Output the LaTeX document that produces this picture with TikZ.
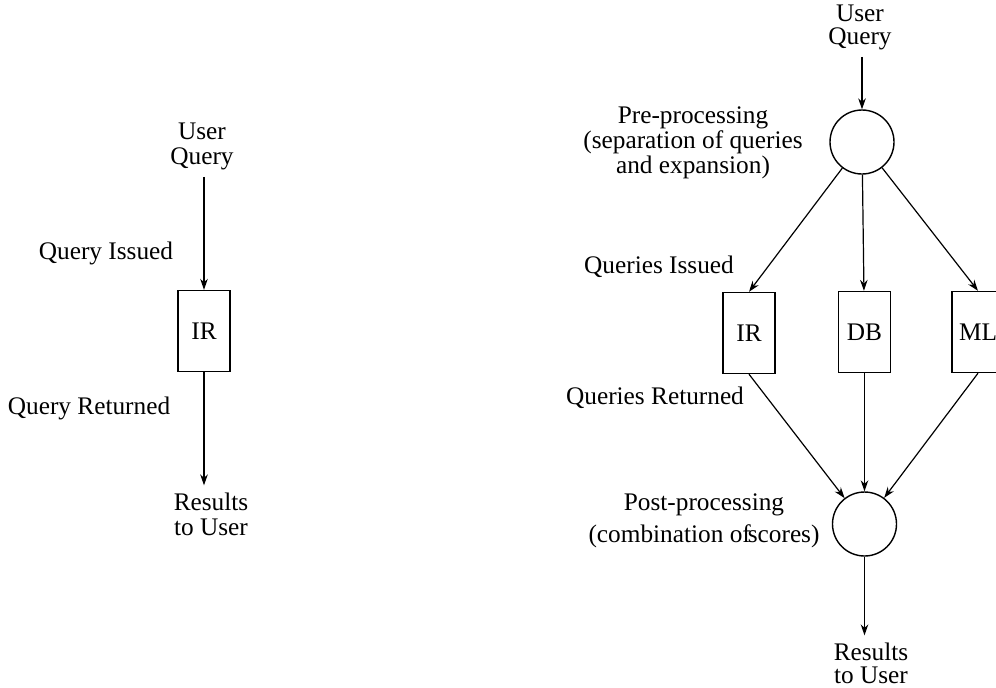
\documentclass[tikz,border=0pt]{standalone}
\usepackage{fontspec}
\setmainfont{Liberation Serif}
\usetikzlibrary{arrows.meta,positioning}
\tikzset{proc node/.style={circle,draw,minimum size=32pt,inner sep=0pt,line width=0.7pt},
         src node/.style={rectangle,draw,minimum width=26pt,minimum height=40.5pt,inner sep=0pt,line width=0.7pt},
         edge label/.style={rectangle,draw=none,fill=none,align=center}
}

\begin{document}
\begin{tikzpicture}[->,>={Stealth[length=5.5pt,width=3.8pt]},
x=0.5pt, y=-0.5pt,
line width=0.6pt,
font=\fontsize{12.65}{12.5}\selectfont]
\useasboundingbox (0,0) rectangle (996,687);

% single source
\node [edge label] (uq1) at (202,146) {User\\Query};
\node [src node] (ir1) at (204,331) {IR};
\node [edge label] (res1) at (211,514) {Results\\to User};
\node [edge label] at (106,253) {Query Issued};
\node [edge label] at (89,408) {Query Returned};

\draw (ir1 |- uq1.south) -- (ir1);
\draw (ir1) -- (ir1 |- res1.north);

% combined sources
\node [edge label] (uq2) at (860,27) {User\\[-1pt]Query};
\node [proc node] (pre) at (862,142) {};
\node [edge label] at (693,143) {Pre-processing\\(separation of queries\\and expansion)};
\node [src node] (ir2) at (749,333) {IR};
\node [src node] (db) at (864.5,332) {DB};
\node [src node] (ml) at (978,332) {ML};
\node [edge label] at (659,267) {Queries Issued};
\node [edge label] at (655,398) {Queries Returned};
\node [proc node] (post) at (864.5,524) {};
\node [edge label] at (704,521) {Post-processing\\[3.5pt](combination of\kern-0.12em scores)};
\node [edge label] (res2) at (871,663) {Results\\[-1pt]to User};

\draw (pre |- uq2.south) -- (pre);
\draw (pre) -- (ir2.north);
\draw (pre) -- (db);
\draw (pre) -- (ml.north);
\draw (ir2.south) -- (post);
\draw (db) -- (post);
\draw (ml.south) -- (post);
\draw (post) -- (post |- res2.north);
\end{tikzpicture}
\end{document}
